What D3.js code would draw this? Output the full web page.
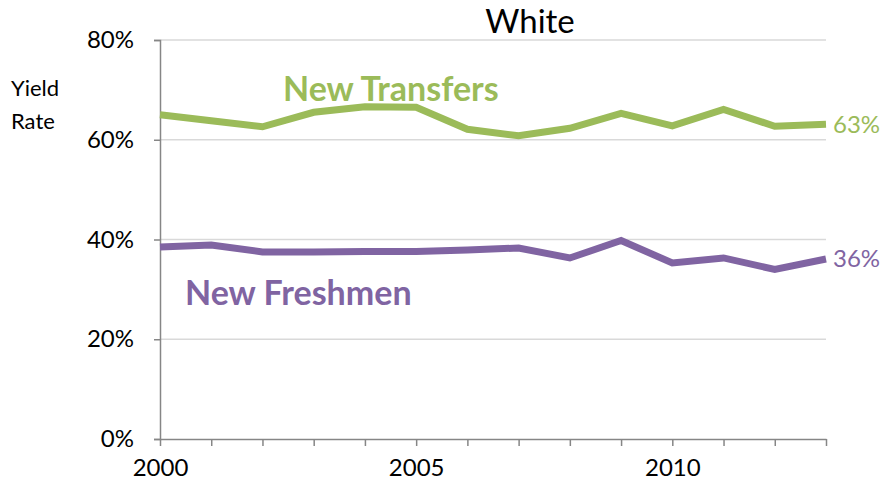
<!DOCTYPE html>
<html>
<head>
<meta charset="utf-8">
<script src="https://cdn.jsdelivr.net/npm/d3@7"></script>
<style>
  html, body { margin: 0; padding: 0; background: #fff; }
  svg { display: block; font-family: Lato, "Open Sans", sans-serif; }
</style>
</head>
<body>
<svg id="chart" width="895" height="491"></svg>
<script>
const years = [2000, 2001, 2002, 2003, 2004, 2005, 2006, 2007, 2008, 2009, 2010, 2011, 2012, 2013];
const transfers = [65.0, 63.8, 62.6, 65.5, 66.6, 66.5, 62.1, 60.8, 62.3, 65.3, 62.8, 66.1, 62.7, 63.1];
const freshmen = [38.5, 38.9, 37.5, 37.5, 37.6, 37.6, 37.9, 38.3, 36.3, 39.8, 35.3, 36.3, 34.0, 36.1];
const yTicks = [0, 20, 40, 60, 80];
const xLabelYears = [2000, 2005, 2010];
const title = "White";
const seriesNames = ["New Transfers", "New Freshmen"];
const endLabels = ["63%", "36%"];

(function () {
const svg = d3.select("#chart");
const mLeft = 160, mRight = 826, mTop = 40, mBottom = 439;
const x = d3.scaleLinear().domain([2000, 2013]).range([mLeft, mRight]);
const y = d3.scaleLinear().domain([0, 80]).range([mBottom, mTop]);

const green = "#9BBB59", purple = "#8064A2", axisCol = "#868686", gridCol = "#D9D9D9";

// gridlines
svg.append("g").selectAll("line").data(yTicks.filter(d => d > 0)).join("line")
  .attr("x1", mLeft).attr("x2", mRight)
  .attr("y1", d => y(d)).attr("y2", d => y(d))
  .attr("stroke", gridCol).attr("stroke-width", 1.5);

// y axis
const yAxis = svg.append("g").attr("transform", `translate(${mLeft},0)`)
  .call(d3.axisLeft(y).tickValues(yTicks).tickFormat(d => d + "%").tickSize(6).tickPadding(20));
yAxis.select(".domain").attr("stroke", axisCol).attr("stroke-width", 1.5);
yAxis.selectAll(".tick line").attr("stroke", axisCol).attr("stroke-width", 1.5);
yAxis.selectAll(".tick text").attr("font-size", 24).attr("fill", "#000")
  .attr("font-family", "Lato, sans-serif");

// x axis
const xAxis = svg.append("g").attr("transform", `translate(0,${mBottom})`)
  .call(d3.axisBottom(x).tickValues(years)
    .tickFormat(d => xLabelYears.includes(d) ? String(d) : "")
    .tickSize(7).tickSizeOuter(0).tickPadding(13));
xAxis.select(".domain").attr("stroke", axisCol).attr("stroke-width", 1.5);
xAxis.selectAll(".tick line").attr("stroke", axisCol).attr("stroke-width", 1.5);
xAxis.selectAll(".tick text").attr("font-size", 24).attr("fill", "#000")
  .attr("font-family", "Lato, sans-serif");

// lines
const line = d3.line().x((d, i) => x(years[i])).y(d => y(d));
[[transfers, green], [freshmen, purple]].forEach(([data, col]) => {
  svg.append("path").datum(data).attr("d", line)
    .attr("fill", "none").attr("stroke", col).attr("stroke-width", 7)
    .attr("stroke-linejoin", "miter").attr("stroke-linecap", "butt");
});

// end labels
svg.append("text").attr("x", mRight + 7).attr("y", y(transfers[13]))
  .attr("dy", "0.35em").attr("font-size", 24).attr("fill", green).text(endLabels[0]);
svg.append("text").attr("x", mRight + 7).attr("y", y(freshmen[13]))
  .attr("dy", "0.35em").attr("font-size", 24).attr("fill", purple).text(endLabels[1]);

// series labels
svg.append("text").attr("x", 283).attr("y", 101).attr("font-size", 34)
  .attr("font-weight", "bold").attr("fill", green).text(seriesNames[0]);
svg.append("text").attr("x", 185).attr("y", 305).attr("font-size", 34)
  .attr("font-weight", "bold").attr("fill", purple).text(seriesNames[1]);

// title
svg.append("text").attr("x", 530).attr("y", 33).attr("text-anchor", "middle")
  .attr("font-size", 33).attr("fill", "#000").text(title);

// y axis title
svg.append("text").attr("x", 11).attr("y", 96).attr("font-size", 22).attr("fill", "#000").text("Yield");
svg.append("text").attr("x", 11).attr("y", 129).attr("font-size", 22).attr("fill", "#000").text("Rate");
})();
</script>
</body>
</html>
